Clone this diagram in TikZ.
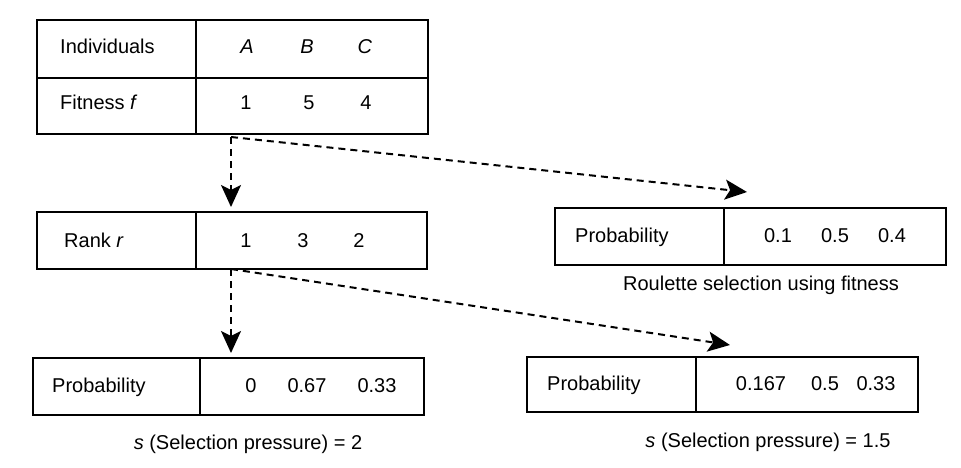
\documentclass[tikz,border=0pt]{standalone}
\usepackage{fontspec}
\setmainfont{Liberation Sans}
\usetikzlibrary{arrows.meta}
\begin{document}
\begin{tikzpicture}[x=1pt,y=-1pt,
  cellbox/.style n args={2}{draw, line width=2pt, anchor=north west, inner sep=0pt, minimum width=#1, minimum height=#2},
  lbl/.style={anchor=base west, inner sep=0pt, font=\fontsize{20}{24}\selectfont},
  val/.style={anchor=base, inner sep=0pt, font=\fontsize{20}{24}\selectfont},
  captext/.style={anchor=base, inner sep=0pt, font=\fontsize{20}{24}\selectfont},
  flow/.style={line width=2pt, dash pattern=on 7pt off 5pt, -{Stealth[length=22pt,width=20pt,inset=5pt]}}]
\useasboundingbox (0,0) rectangle (961,468);
% top table
\node[cellbox={159pt}{58pt}] (tl1) at (36,19) {};
\node[cellbox={232pt}{58pt}] (tr1) at (195,19) {};
\node[cellbox={159pt}{56pt}] (tl2) at (36,77) {};
\node[cellbox={232pt}{56pt}] (tr2) at (195,77) {};
\node[lbl] (tind) at (60,54) {Individuals};
\node[val] (tA) at (247,54) {\textit{A}};
\node[val] (tB) at (307,54) {\textit{B}};
\node[val] (tC) at (365,54) {\textit{C}};
\node[lbl] (tfit) at (60,110) {Fitness \textit{f}};
\node[val] (tf1) at (246,110) {1};
\node[val] (tf2) at (309,110) {5};
\node[val] (tf3) at (366,110) {4};
% rank table
\node[cellbox={159pt}{57pt}] (rl) at (36,211) {};
\node[cellbox={231pt}{57pt}] (rr) at (195,211) {};
\node[lbl] (rlab) at (64,247) {Rank \textit{r}};
\node[val] (r1) at (246,247) {1};
\node[val] (r2) at (303,247) {3};
\node[val] (r3) at (359,247) {2};
% roulette table
\node[cellbox={169pt}{57pt}] (ql) at (554,207) {};
\node[cellbox={222pt}{57pt}] (qr) at (723,207) {};
\node[lbl] (qlab) at (575,242) {Probability};
\node[val] (q1) at (778,242) {0.1};
\node[val] (q2) at (835,242) {0.5};
\node[val] (q3) at (892,242) {0.4};
\node[captext] (qcap) at (761,290) {Roulette selection using fitness};
% bottom-left table
\node[cellbox={167pt}{57pt}] (bl) at (32,357) {};
\node[cellbox={224pt}{57pt}] (br) at (199,357) {};
\node[lbl] (blab) at (52,392) {Probability};
\node[val] (b1) at (251,392) {0};
\node[val] (b2) at (307,392) {0.67};
\node[val] (b3) at (377,392) {0.33};
\node[captext] (bcap) at (248,449) {\textit{s} (Selection pressure) = 2};
% bottom-right table
\node[cellbox={169pt}{55pt}] (cl) at (526,356) {};
\node[cellbox={222pt}{55pt}] (cr) at (695,356) {};
\node[lbl] (clab) at (547,390) {Probability};
\node[val] (c1) at (761,390) {0.167};
\node[val] (c2) at (825,390) {0.5};
\node[val] (c3) at (876,390) {0.33};
\node[captext] (ccap) at (768,447) {\textit{s} (Selection pressure) = 1.5};
% connectors
\coordinate (fs) at (231,137);
\coordinate (fe1) at (231,207);
\coordinate (fe2) at (747,192);
\coordinate (rs) at (231,269);
\coordinate (re1) at (231,353);
\coordinate (re2) at (730,345);
\draw[flow] (fs) -- (fe1);
\draw[flow] (fs) -- (fe2);
\draw[flow] (rs) -- (re1);
\draw[flow] (rs) -- (re2);
\end{tikzpicture}
\end{document}
